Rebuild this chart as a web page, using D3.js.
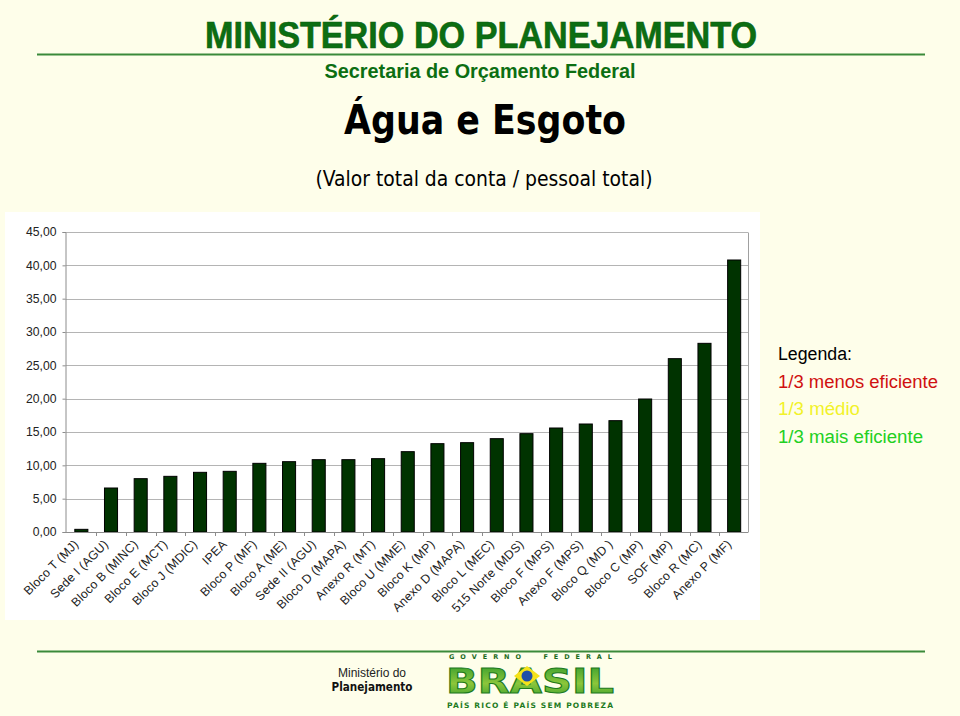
<!DOCTYPE html>
<html>
<head>
<meta charset="utf-8">
<script src="https://cdn.jsdelivr.net/npm/d3@7"></script>
<style>
  html, body { margin: 0; padding: 0; background: #fefeea; }
  svg { display: block; }
</style>
</head>
<body>
<script>
// ---- data ----
const categories = [
  "Bloco T (MJ)", "Sede I (AGU)", "Bloco B (MINC)", "Bloco E (MCT)", "Bloco J (MDIC)",
  "IPEA", "Bloco P (MF)", "Bloco A (ME)", "Sede II (AGU)", "Bloco D (MAPA)",
  "Anexo R (MT)", "Bloco U (MME)", "Bloco K (MP)", "Anexo D (MAPA)", "Bloco L (MEC)",
  "515 Norte (MDS)", "Bloco F (MPS)", "Anexo F (MPS)", "Bloco Q (MD )", "Bloco C (MP)",
  "SOF (MP)", "Bloco R (MC)", "Anexo P (MF)"
];
const values = [
  0.4, 6.6, 8.0, 8.35, 8.95,
  9.1, 10.3, 10.55, 10.85, 10.85,
  11.0, 12.05, 13.25, 13.4, 14.0,
  14.75, 15.6, 16.2, 16.7, 19.95,
  26.0, 28.3, 40.8
];
const yTicks = [0, 5, 10, 15, 20, 25, 30, 35, 40, 45];
const legendTitle = "Legenda:";
const legendItems = ["1/3 menos eficiente", "1/3 médio", "1/3 mais eficiente"];
const legendColors = ["#d01010", "#f2f22a", "#22d022"];
const legendWidths = [160, 82, 145];

const W = 960, H = 716;
const svg = d3.select("body").append("svg").attr("width", W).attr("height", H);

svg.append("rect").attr("width", W).attr("height", H).attr("fill", "#fefeea");

// ---- header ----
svg.append("text")
  .attr("x", 481).attr("y", 48)
  .attr("text-anchor", "middle")
  .attr("font-family", "'Liberation Sans Narrow', 'Arial Narrow', 'Liberation Sans', Arial, sans-serif")
  .attr("font-weight", "bold").attr("font-size", 36)
  .attr("textLength", 552).attr("lengthAdjust", "spacingAndGlyphs")
  .attr("fill", "#0c6e12").attr("stroke", "#0a5a0e").attr("stroke-width", 0.6)
  .text("MINISTÉRIO DO PLANEJAMENTO");

svg.append("line").attr("x1", 37).attr("x2", 925).attr("y1", 54.5).attr("y2", 54.5)
  .attr("stroke", "#3a8a3a").attr("stroke-width", 2);

svg.append("text")
  .attr("x", 480).attr("y", 78)
  .attr("text-anchor", "middle")
  .attr("font-family", "'Liberation Sans', Arial, sans-serif")
  .attr("font-weight", "bold").attr("font-size", 19.5)
  .attr("textLength", 311).attr("lengthAdjust", "spacingAndGlyphs")
  .attr("fill", "#0c6e12")
  .text("Secretaria de Orçamento Federal");

svg.append("text")
  .attr("x", 485).attr("y", 134)
  .attr("text-anchor", "middle")
  .attr("font-family", "'DejaVu Sans', Tahoma, sans-serif")
  .attr("font-weight", "bold").attr("font-size", 41)
  .attr("textLength", 282).attr("lengthAdjust", "spacingAndGlyphs")
  .attr("fill", "#000")
  .text("Água e Esgoto");

svg.append("text")
  .attr("x", 484).attr("y", 186)
  .attr("text-anchor", "middle")
  .attr("font-family", "'DejaVu Sans Condensed', 'DejaVu Sans', Tahoma, sans-serif")
  .attr("font-size", 21)
  .attr("textLength", 337).attr("lengthAdjust", "spacingAndGlyphs")
  .attr("fill", "#000")
  .text("(Valor total da conta / pessoal total)");

// ---- chart panel ----
svg.append("rect").attr("x", 5).attr("y", 212).attr("width", 755).attr("height", 408)
  .attr("fill", "#ffffff");

const x0 = 65.5, x1 = 748;
const x = d3.scaleBand().domain(categories).range([x0 + 1, x1 + 1])
  .paddingInner(0.56).paddingOuter(0.28);
const y = d3.scaleLinear().domain([0, 45]).range([532, 232]);

const fmt = v => d3.format(".2f")(v).replace(".", ",");

// gridlines
svg.append("g").selectAll("line").data(yTicks.filter(t => t > 0)).join("line")
  .attr("x1", x0).attr("x2", x1)
  .attr("y1", d => Math.round(y(d)) + 0.5).attr("y2", d => Math.round(y(d)) + 0.5)
  .attr("stroke", "#b4b4b4").attr("stroke-width", 1);

// right border
svg.append("line").attr("x1", x1 + 0.5).attr("x2", x1 + 0.5)
  .attr("y1", Math.round(y(45)) + 0.5).attr("y2", Math.round(y(0)) + 0.5)
  .attr("stroke", "#a0a0a0");

// y axis
const yAxis = d3.axisLeft(y).tickValues(yTicks).tickFormat(fmt).tickSize(3).tickPadding(6);
const gy = svg.append("g").attr("transform", `translate(${x0},0)`).call(yAxis);
gy.select(".domain").attr("stroke", "#8c8c8c");
gy.selectAll(".tick line").attr("stroke", "#8c8c8c");
gy.selectAll(".tick text")
  .attr("font-family", "'Liberation Sans', Arial, sans-serif")
  .attr("font-size", 12.2).attr("fill", "#222");

// bars
svg.append("g").selectAll("rect").data(values).join("rect")
  .attr("x", (d, i) => x(categories[i]))
  .attr("width", x.bandwidth())
  .attr("y", d => y(d))
  .attr("height", d => y(0) - y(d))
  .attr("fill", "#003300")
  .attr("stroke", "#000").attr("stroke-width", 1);

// x axis baseline + ticks at category boundaries
svg.append("line").attr("x1", x0).attr("x2", x1)
  .attr("y1", Math.round(y(0)) + 0.5).attr("y2", Math.round(y(0)) + 0.5)
  .attr("stroke", "#8c8c8c");
const step = x.step();
svg.append("g").selectAll("line").data(categories.slice(1)).join("line")
  .attr("x1", d => Math.round(x(d) - step * 0.28) + 0.5)
  .attr("x2", d => Math.round(x(d) - step * 0.28) + 0.5)
  .attr("y1", y(0)).attr("y2", y(0) + 4)
  .attr("stroke", "#8c8c8c");

// x labels
svg.append("g").selectAll("text").data(categories).join("text")
  .attr("transform", d => `translate(${x(d) + x.bandwidth() / 2 - 5},${542}) rotate(-45)`)
  .attr("text-anchor", "end")
  .attr("dy", "0.35em")
  .attr("font-family", "'Liberation Sans', Arial, sans-serif")
  .attr("font-size", 12.3).attr("letter-spacing", 0.2).attr("fill", "#222")
  .text(d => d);

// ---- legend ----
svg.append("text").attr("x", 778).attr("y", 360)
  .attr("font-family", "'Liberation Sans', Tahoma, sans-serif")
  .attr("font-size", 18).attr("fill", "#000")
  .attr("textLength", 74).attr("lengthAdjust", "spacingAndGlyphs")
  .text(legendTitle);
svg.append("g").selectAll("text").data(legendItems).join("text")
  .attr("x", 778).attr("y", (d, i) => 387.5 + i * 27.8)
  .attr("font-family", "'Liberation Sans', Tahoma, sans-serif")
  .attr("font-size", 18)
  .attr("textLength", (d, i) => legendWidths[i]).attr("lengthAdjust", "spacingAndGlyphs")
  .attr("fill", (d, i) => legendColors[i])
  .text(d => d);

// ---- footer ----
svg.append("line").attr("x1", 37).attr("x2", 925).attr("y1", 651.5).attr("y2", 651.5)
  .attr("stroke", "#3a8a3a").attr("stroke-width", 2);

svg.append("text").attr("x", 372).attr("y", 677)
  .attr("text-anchor", "middle")
  .attr("font-family", "'Liberation Sans', Verdana, sans-serif")
  .attr("font-size", 12).attr("fill", "#222").text("Ministério do");
svg.append("text").attr("x", 372).attr("y", 691)
  .attr("text-anchor", "middle")
  .attr("font-family", "'DejaVu Sans', Verdana, sans-serif")
  .attr("font-weight", "bold")
  .attr("font-size", 12).attr("textLength", 81).attr("lengthAdjust", "spacingAndGlyphs")
  .attr("fill", "#111").text("Planejamento");

// Brasil logo
const defs = svg.append("defs");
const grad = defs.append("linearGradient").attr("id", "brg").attr("x1", 0).attr("x2", 0).attr("y1", 0).attr("y2", 1);
grad.append("stop").attr("offset", "0%").attr("stop-color", "#2e9a2e");
grad.append("stop").attr("offset", "55%").attr("stop-color", "#8cc63a");
grad.append("stop").attr("offset", "100%").attr("stop-color", "#2e9a2e");

svg.append("text").attr("x", 449).attr("y", 659)
  .attr("font-family", "'DejaVu Sans', sans-serif").attr("font-weight", "bold")
  .attr("font-size", 6.5).attr("fill", "#1d6b1d")
  .attr("style", "white-space: pre")
  .attr("textLength", 163).attr("lengthAdjust", "spacing")
  .text("G O V E R N O     F E D E R A L");
svg.append("text").attr("x", 446).attr("y", 693)
  .attr("font-family", "'DejaVu Sans', sans-serif").attr("font-weight", "bold")
  .attr("font-size", 33).attr("fill", "url(#brg)").attr("stroke", "#1d7a1d").attr("stroke-width", 1)
  .attr("textLength", 168).attr("lengthAdjust", "spacingAndGlyphs")
  .text("BRASIL");
svg.append("path")
  .attr("d", "M527,666 L540,676 L527,686 L514,676 Z")
  .attr("fill", "#f4e21a");
svg.append("circle").attr("cx", 527).attr("cy", 676).attr("r", 5.5).attr("fill", "#1f4fa8");
svg.append("text").attr("x", 447).attr("y", 708)
  .attr("font-family", "'DejaVu Sans', sans-serif").attr("font-weight", "bold")
  .attr("font-size", 7.5).attr("fill", "#1d7a1d")
  .attr("textLength", 166).attr("lengthAdjust", "spacing")
  .text("PAÍS RICO É PAÍS SEM POBREZA");
</script>
</body>
</html>
